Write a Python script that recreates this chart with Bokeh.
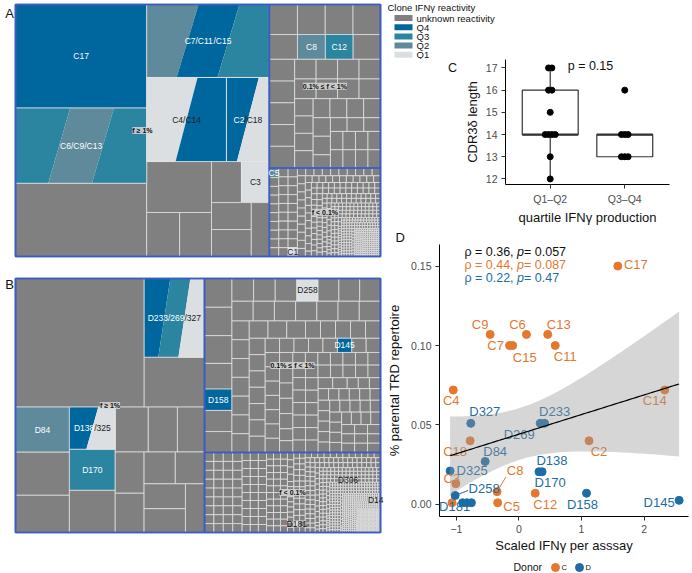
import numpy as np
from bokeh.plotting import figure
from bokeh.layouts import row, column
from bokeh.models import (Range1d, Label, FixedTicker, Title, NumeralTickFormatter)
from bokeh.core.properties import value
from bokeh.embed import file_html
from bokeh.resources import INLINE

FONT = "Liberation Sans"

# ======================= DATA =======================
# IFN-gamma reactivity classes (legend of the tree maps)
react_keys = ["NA", "Q4", "Q3", "Q2", "Q1"]
react_labels = ["unknown reactivity", "Q4", "Q3", "Q2", "Q1"]
react_colors = ["#808080", "#00679E", "#2B85A0", "#5F8A9B", "#DCDFE2"]
legend_title = "Clone IFNγ reactivity"
tier_labels = ["f ≥ 1%", "0.1% ≤ f < 1%", "f < 0.1%"]

# ---- Panel A (donor C): clonotype frequencies (% of TRD repertoire) ----
A_big_names = ["C17", "C6/C9/C13", "", "C7/C11/C15", "C4/C14", "C2/C18", "", "", "", "", "C3", "", "", ""]
A_big_quart = ["Q4", "Q3/Q2/Q3", "NA", "Q2/Q4/Q3", "Q1/Q4", "Q4/Q1", "NA", "NA", "NA", "NA", "Q1", "NA", "NA", "NA"]
A_big_freq = [14.81, 10.76, 10.48, 9.76, 7.31, 3.93, 3.60, 1.58, 1.53, 1.34, 1.25, 1.17, 1.17, 1.06]
A_big_nesting = [[0, 1, 2], [3, [4, 5], [[6, [7, 8]], [[9, 10], [[11, 12], 13]]]]]
A_mid_hist_freq = [0.92, 0.91, 0.90, 0.76, 0.74, 0.60, 0.46, 0.35, 0.25]
A_mid_hist_count = [1, 2, 1, 1, 1, 5, 8, 10, 12]
A_mid_named = ["C8", "C12"]
A_mid_named_freq = [0.755, 0.75]
A_mid_named_quart = ["Q2", "Q3"]
A_low_hist_freq = [0.09, 0.07, 0.05, 0.035, 0.025, 0.015, 0.008, 0.004]
A_low_hist_count = [28, 20, 20, 40, 50, 80, 120, 200]
A_low_named = ["C5", "C1"]
A_low_named_freq = [0.098, 0.0895]
A_low_named_quart = ["Q2", "Q1"]

# ---- Panel B (donor D) ----
B_big_names = ["", "D233/269/327", "", "D84", "", "", "D138/325", "D170", "", "", "", "", "", "", "", "", "", "", ""]
B_big_quart = ["NA", "Q4/Q3/Q1", "NA", "Q2", "NA", "NA", "Q4/Q1", "Q3", "NA", "NA", "NA", "NA", "NA", "NA", "NA", "NA", "NA", "NA", "NA"]
B_big_freq = [17.81, 5.11, 3.24, 2.62, 2.50, 2.16, 2.08, 2.03, 2.08, 1.60, 1.41, 1.31, 1.28, 1.22, 1.07, 1.00, 1.11, 1.06, 1.00]
B_big_nesting = [[0, [1, 2]], [[3, 4, 5], [6, 7, 8], [[9, 10, 11], [[12, 13], [[14, 15], [[16, 17], 18]]]]]]
B_mid_hist_freq = [0.85, 0.84, 0.82, 0.76, 0.625, 0.62, 0.53, 0.51, 0.45, 0.35, 0.28, 0.221, 0.219, 0.17, 0.13]
B_mid_hist_count = [1, 1, 1, 1, 1, 1, 3, 3, 7, 10, 12, 12, 7, 30, 36]
B_mid_named = ["D158", "D258", "D145"]
B_mid_named_freq = [0.63, 0.52, 0.22]
B_mid_named_quart = ["Q4", "Q1", "Q4"]
B_low_hist_freq = [0.09, 0.07, 0.05, 0.0352, 0.0348, 0.025, 0.0151, 0.0149, 0.008, 0.0041, 0.0039, 0.002]
B_low_hist_count = [36, 30, 40, 22, 27, 70, 84, 15, 150, 125, 125, 300]
B_low_named = ["D181", "D306", "D14"]
B_low_named_freq = [0.035, 0.015, 0.004]
B_low_named_quart = ["Q1", "Q1", "Q1"]

# ---- Panel C: CDR3 delta length by IFN-gamma quartile ----
C_groups = ["Q1–Q2", "Q3–Q4"]
C_len_q12 = [17, 17, 16, 16, 15, 14, 14, 14, 14, 13, 12]
C_len_q34 = [16, 14, 14, 14, 13, 13, 13]
C_ptext = "p = 0.15"

# ---- Panel D: repertoire share vs scaled IFN-gamma ----
D_C_names = ["C17", "C9", "C6", "C13", "C7", "C15", "C11", "C4", "C14", "C18", "C2", "C3", "C8", "C12", "C5", "C1"]
D_C_x = [1.58, -0.46, 0.12, 0.46, -0.15, -0.10, 0.58, -1.05, 2.33, -0.78, 1.12, -1.01, -0.35, 0.26, -0.34, -1.07]
D_C_y = [0.150, 0.107, 0.107, 0.107, 0.100, 0.100, 0.100, 0.072, 0.072, 0.040, 0.040, 0.013, 0.008, 0.007, 0.001, 0.001]
D_D_names = ["D327", "D269", "D233", "D84", "D325", "D138", "D170", "D258", "D181", "D306", "D14", "D158", "D145"]
D_D_x = [-0.77, 0.34, 0.41, -0.54, -1.10, 0.32, 0.37, -1.02, -0.90, -0.83, -0.76, 1.08, 2.56]
D_D_y = [0.051, 0.051, 0.051, 0.027, 0.021, 0.0205, 0.0205, 0.0056, 0.001, 0.001, 0.001, 0.007, 0.0025]
D_rho = ["0.36", "0.44", "0.22"]
D_pval = ["0.057", "0.087", "0.47"]
donor_title = "Donor"
donor_names = ["C", "D"]
donor_colors = ["#E5772F", "#1C6DA5"]

# ======================= LAYOUT / STYLE =======================
CELL_LINE = "#E6E6E6"
TIER_LINE = "#3D5CC0"
A_REGION = (15, 4, 365, 252)
B_REGION = (15, 278, 365, 254)
SLANT_A = 22
SLANT_B = 12
qcol = dict(zip(react_keys, react_colors))
CW = {'C': 0.722, 'D': 0.722, '/': 0.278}


def text_w(s, size):
    return sum(CW.get(ch, 0.556) for ch in s) * size


def nest_sum(node, vals):
    if isinstance(node, int):
        return vals[node]
    return sum(nest_sum(c, vals) for c in node)


def nest_layout(node, vals, x, y, w, h, out):
    if isinstance(node, int):
        out[node] = (x, y, w, h)
        return
    sums = [nest_sum(c, vals) for c in node]
    tot = sum(sums)
    for c, s in zip(node, sums):
        if w >= h:
            cw = w * s / tot
            nest_layout(c, vals, x, y, cw, h, out)
            x += cw
        else:
            ch = h * s / tot
            nest_layout(c, vals, x, y, w, ch, out)
            y += ch


def _layout(sizes, x, y, dx, dy):
    cov = sum(sizes)
    rects = []
    if dx >= dy:
        width = cov / max(dy, 1e-9)
        for s in sizes:
            hh = s / max(width, 1e-9)
            rects.append((x, y, width, hh))
            y += hh
    else:
        height = cov / max(dx, 1e-9)
        for s in sizes:
            ww = s / max(height, 1e-9)
            rects.append((x, y, ww, height))
            x += ww
    return rects


def _leftover(sizes, x, y, dx, dy):
    cov = sum(sizes)
    if dx >= dy:
        width = cov / max(dy, 1e-9)
        return x + width, y, dx - width, dy
    height = cov / max(dx, 1e-9)
    return x, y + height, dx, dy - height


def _worst(sizes, x, y, dx, dy):
    return max(max(w / max(h, 1e-9), h / max(w, 1e-9)) for (_, _, w, h) in _layout(sizes, x, y, dx, dy))


def squarify(sizes, x, y, dx, dy):
    out = []
    while sizes:
        if len(sizes) == 1:
            out += _layout(sizes, x, y, dx, dy)
            break
        i = 1
        while i < len(sizes) and _worst(sizes[:i], x, y, dx, dy) >= _worst(sizes[:i + 1], x, y, dx, dy):
            i += 1
        cur = sizes[:i]
        out += _layout(cur, x, y, dx, dy)
        x, y, dx, dy = _leftover(cur, x, y, dx, dy)
        sizes = sizes[i:]
    return out


def tier_items(hf, hc, nn, nf, nq):
    items = []
    for f, c in zip(hf, hc):
        items += [(f, "", "NA")] * c
    for n, f, q in zip(nn, nf, nq):
        items.append((f, n, q))
    items.sort(key=lambda t: -t[0])
    return items


cells = dict(l=[], r=[], t=[], b=[], c=[])
outl = dict(l=[], r=[], t=[], b=[])
strp = dict(xs=[], ys=[], c=[])
lab_c = dict(x=[], y=[], text=[], color=[])
lab_l = dict(x=[], y=[], text=[], color=[])
borders = dict(l=[], r=[], t=[], b=[])
tier_lab = []
LAB_SIZE = 8.5
DARK = "#1A1A1A"


def add_cell(x, y, w, h, name, quart, slant):
    qs = quart.split("/")
    if len(qs) == 1:
        for k, v in zip(("l", "r", "t", "b", "c"), (x, x + w, y, y + h, qcol[qs[0]])):
            cells[k].append(v)
    else:
        n = len(qs)

        def bx(k, top):
            if k == 0:
                return x
            if k == n:
                return x + w
            xm = x + w * k / n
            return xm + slant / 2 if top else xm - slant / 2
        for i, q in enumerate(qs):
            strp["xs"].append([bx(i, True), bx(i + 1, True), bx(i + 1, False), bx(i, False)])
            strp["ys"].append([y, y, y + h, y + h])
            strp["c"].append(qcol[q])
        for k, v in zip(("l", "r", "t", "b"), (x, x + w, y, y + h)):
            outl[k].append(v)
    if name:
        parts = name.split("/")
        pieces = [parts[0]] + ["/" + s for s in parts[1:]]
        cx, cy = x + w / 2, y + h / 2
        if len(pieces) == 1:
            lab_c["x"].append(cx); lab_c["y"].append(cy)
            lab_c["text"].append(pieces[0])
            lab_c["color"].append(DARK if qs[0] in ("Q1", "NA") else "#FFFFFF")
        else:
            tot = sum(text_w(p, LAB_SIZE) for p in pieces)
            sx = cx - tot / 2
            dark = False
            for p, q in zip(pieces, qs):
                dark = dark or q == "Q1"
                lab_l["x"].append(sx); lab_l["y"].append(cy)
                lab_l["text"].append(p); lab_l["color"].append(DARK if dark else "#FFFFFF")
                sx += text_w(p, LAB_SIZE)


def draw_panel(region, big_names, big_quart, big_freq, big_nest, mid_items, low_items, slant):
    tots = [sum(big_freq), sum(t[0] for t in mid_items), sum(t[0] for t in low_items)]
    rects = {}
    nest_layout([0, [1, 2]], tots, *region, rects)
    out = {}
    nest_layout(big_nest, big_freq, *rects[0], out)
    for i in range(len(big_freq)):
        add_cell(*out[i], big_names[i], big_quart[i], slant)
    for ti, items in ((1, mid_items), (2, low_items)):
        x, y, w, h = rects[ti]
        tot = sum(t[0] for t in items)
        sizes = [t[0] * w * h / tot for t in items]
        for (rx, ry, rw, rh), (f, n, q) in zip(squarify(sizes, x, y, w, h), items):
            add_cell(rx, ry, rw, rh, n, q, slant)
    for ti in range(3):
        x, y, w, h = rects[ti]
        borders["l"].append(x); borders["r"].append(x + w)
        borders["t"].append(y); borders["b"].append(y + h)
        tier_lab.append((x + w / 2, y + h / 2, tier_labels[ti]))
    x, y, w, h = region
    borders["l"].append(x); borders["r"].append(x + w)
    borders["t"].append(y); borders["b"].append(y + h)


draw_panel(A_REGION, A_big_names, A_big_quart, A_big_freq, A_big_nesting,
           tier_items(A_mid_hist_freq, A_mid_hist_count, A_mid_named, A_mid_named_freq, A_mid_named_quart),
           tier_items(A_low_hist_freq, A_low_hist_count, A_low_named, A_low_named_freq, A_low_named_quart),
           SLANT_A)
draw_panel(B_REGION, B_big_names, B_big_quart, B_big_freq, B_big_nesting,
           tier_items(B_mid_hist_freq, B_mid_hist_count, B_mid_named, B_mid_named_freq, B_mid_named_quart),
           tier_items(B_low_hist_freq, B_low_hist_count, B_low_named, B_low_named_freq, B_low_named_quart),
           SLANT_B)


def canvas(w, h, x0, y0):
    """A plain figure whose data units are page pixels (no axes)."""
    c = figure(width=w, height=h, x_range=Range1d(x0, x0 + w), y_range=Range1d(y0 + h, y0),
               output_backend="svg", toolbar_location=None, min_border=0,
               x_axis_location=None, y_axis_location=None, outline_line_color=None)
    c.grid.visible = False
    return c


# ---------------- tree-map figure ----------------
tm = canvas(384, 573, 0, 0)
tm.quad(left=cells["l"], right=cells["r"], top=cells["t"], bottom=cells["b"],
        fill_color=cells["c"], line_color=CELL_LINE, line_width=0.7)
tm.patches(xs=strp["xs"], ys=strp["ys"], fill_color=strp["c"], line_color=None)
tm.quad(left=outl["l"], right=outl["r"], top=outl["t"], bottom=outl["b"],
        fill_alpha=0, line_color=CELL_LINE, line_width=0.7)
tm.quad(left=borders["l"], right=borders["r"], top=borders["t"], bottom=borders["b"],
        fill_alpha=0, line_color=TIER_LINE, line_width=1.6)
tm.text(x=lab_c["x"], y=lab_c["y"], text=lab_c["text"], text_color=lab_c["color"],
        text_align="center", text_baseline="middle", text_font=value(FONT),
        text_font_size="8.5px")
tm.text(x=lab_l["x"], y=lab_l["y"], text=lab_l["text"], text_color=lab_l["color"],
        text_align="left", text_baseline="middle", text_font=value(FONT),
        text_font_size="8.5px")
for (lx, ly, lt) in tier_lab:
    tm.add_layout(Label(x=lx, y=ly, text=lt, text_align="center", text_baseline="middle",
                        text_font=FONT, text_font_size="7px", text_font_style="bold",
                        text_color="#111111", background_fill_color="#D6D6D6",
                        background_fill_alpha=0.85))
tm.text(x=[9, 9], y=[13, 284], text=["A", "B"], text_align="center", text_baseline="middle",
        text_font=value(FONT), text_font_size="13px", text_color="#111111")

# ---------------- tree-map legend canvas ----------------
LG_H = 59
lg = canvas(308, LG_H, 384, 0)
lg.text(x=[387], y=[6.5], text=[legend_title], text_align="left", text_baseline="middle",
        text_font=value(FONT), text_font_size="9.5px", text_color="#111111")
ly = [17.5 + 9.2 * i for i in range(len(react_keys))]
lg.quad(left=[394] * len(ly), right=[412] * len(ly), top=[v - 3 for v in ly], bottom=[v + 3 for v in ly],
        fill_color=react_colors, line_color=None)
lg.text(x=[416] * len(ly), y=ly, text=react_labels, text_align="left", text_baseline="middle",
        text_font=value(FONT), text_font_size="9.5px", text_color="#111111")


def style_axes(p):
    for ax in p.axis:
        ax.axis_line_color = "black"
        ax.axis_line_width = 1
        ax.major_tick_line_color = "#333333"
        ax.major_tick_out = 4
        ax.major_tick_in = 0
        ax.minor_tick_line_color = None
        ax.major_label_text_font = FONT
        ax.major_label_text_font_size = "10.5px"
        ax.major_label_text_color = "#4D4D4D"
        ax.major_label_standoff = 4
        ax.axis_label_text_font = FONT
        ax.axis_label_text_font_size = "13px"
        ax.axis_label_text_font_style = "normal"
        ax.axis_label_text_color = "#111111"
    p.grid.visible = False
    p.outline_line_color = None


# ---------------- panel C ----------------
C_H = 227 - LG_H
cl = canvas(77, C_H, 384, LG_H)
cl.text(x=[452], y=[67], text=["C"], text_align="center", text_baseline="middle",
        text_font=value(FONT), text_font_size="12.5px", text_color="#111111")

cf = figure(width=231, height=C_H, x_range=Range1d(0.4, 2.6), y_range=Range1d(11.75, 17.38),
            output_backend="svg", toolbar_location=None,
            min_border_left=40, min_border_right=23, min_border_top=0, min_border_bottom=40)
style_axes(cf)
cf.xaxis.ticker = FixedTicker(ticks=[1, 2])
cf.xaxis.major_label_overrides = {1: C_groups[0], 2: C_groups[1]}
cf.yaxis.ticker = FixedTicker(ticks=[12, 13, 14, 15, 16, 17])
cf.xaxis.axis_label = "quartile IFNγ production"
cf.yaxis.axis_label = "CDR3δ length"
cf.xaxis.axis_label_standoff = 2
cf.yaxis.axis_label_standoff = 3

for gi, vals in enumerate([C_len_q12, C_len_q34]):
    xc = gi + 1
    v = np.array(vals, dtype=float)
    q1, med, q3 = np.percentile(v, [25, 50, 75])
    iqr = q3 - q1
    hi = v[v <= q3 + 1.5 * iqr].max()
    lo = v[v >= q1 - 1.5 * iqr].min()
    cf.segment(x0=[xc, xc], y0=[q3, lo], x1=[xc, xc], y1=[hi, q1], line_color="#333333", line_width=1.2)
    cf.quad(left=[xc - 0.375], right=[xc + 0.375], bottom=[q1], top=[q3],
            fill_alpha=0, line_color="#333333", line_width=1.2)
    cf.segment(x0=[xc - 0.375], x1=[xc + 0.375], y0=[med], y1=[med], line_color="#333333", line_width=2.2)
    # spread identical values horizontally (deterministic jitter)
    xs, ys = [], []
    for u in sorted(set(vals)):
        n = vals.count(u)
        for k in range(n):
            xs.append(xc + (k - (n - 1) / 2) * 0.045)
            ys.append(u)
    cf.scatter(xs, ys, size=6, color="black")
cf.text(x=[1.54], y=[17.1], text=[C_ptext], text_align="center", text_baseline="middle",
        text_font=value(FONT), text_font_size="12.5px", text_color="#111111")

# ---------------- panel D ----------------
dxr = (-1.27, 2.71)
dyr = (-0.00766, 0.1636)
df = figure(width=308, height=328, x_range=Range1d(*dxr), y_range=Range1d(*dyr),
            output_backend="svg", toolbar_location=None,
            min_border_left=54, min_border_right=4, min_border_top=16, min_border_bottom=37)
style_axes(df)
df.xaxis.ticker = FixedTicker(ticks=[-1, 0, 1, 2])
df.yaxis.ticker = FixedTicker(ticks=[0, 0.05, 0.10, 0.15])
df.yaxis.formatter = NumeralTickFormatter(format="0.00")
df.xaxis.axis_label = "Scaled IFNγ per asssay"
df.yaxis.axis_label = "% parental TRD repertoire"
df.xaxis.axis_label_standoff = 2
df.yaxis.axis_label_standoff = 6
df.add_layout(Title(text="D", align="left", offset=-44, text_font=FONT, text_font_size="13px",
                    text_font_style="normal", text_color="#111111", standoff=0), "above")

PXX = 250 / (dxr[1] - dxr[0])
PXY = 275 / (dyr[1] - dyr[0])

nudge = {"C17": (18, -2), "C9": (-10, -10), "C6": (-9, -10), "C13": (11, -10), "C7": (-14, 0),
         "C15": (12, 12), "C11": (10, 11), "C4": (-2, 11), "C14": (-10, 11), "C18": (-15, 11),
         "C2": (10, 11), "C3": (-4, -5), "C8": (18, -21), "C12": (10, 11), "C5": (14, 4),
         "D327": (14, -12), "D233": (10, -12), "D269": (-21, 11), "D84": (10, -10),
         "D325": (22, 0), "D138": (13, -11), "D170": (8, 11), "D258": (29, -7),
         "D158": (-4, 11), "D145": (-20, 2), "D181": (-8, 4)}
seg_end = {"C8": (9, -15), "D258": (13, -5)}

for names, xs, ys, col in ((D_C_names, D_C_x, D_C_y, donor_colors[0]),
                           (D_D_names, D_D_x, D_D_y, donor_colors[1])):
    df.scatter(xs, ys, size=8, color=col)
for names, xs, ys, col in ((D_C_names, D_C_x, D_C_y, donor_colors[0]),
                           (D_D_names, D_D_x, D_D_y, donor_colors[1])):
    tx, ty, tt, ox, oy = [], [], [], [], []
    sx0, sy0, sx1, sy1 = [], [], [], []
    for n, x, y in zip(names, xs, ys):
        if n in nudge:
            tx.append(x); ty.append(y); tt.append(n)
            ox.append(nudge[n][0]); oy.append(nudge[n][1])
        if n in seg_end:
            sx0.append(x); sy0.append(y)
            sx1.append(x + seg_end[n][0] / PXX); sy1.append(y - seg_end[n][1] / PXY)
    df.segment(x0=sx0, y0=sy0, x1=sx1, y1=sy1, line_color=col, line_width=1)
    df.text(x=tx, y=ty, text=tt, x_offset=ox, y_offset=oy, text_color=col,
            text_align="center", text_baseline="middle", text_font=value(FONT),
            text_font_size="13px")

# linear fit with 95% confidence band
ax_ = np.array(D_C_x + D_D_x)
ay_ = np.array(D_C_y + D_D_y)
n = len(ax_)
b1, b0 = np.polyfit(ax_, ay_, 1)
res = ay_ - (b0 + b1 * ax_)
s = np.sqrt((res ** 2).sum() / (n - 2))
sxx = ((ax_ - ax_.mean()) ** 2).sum()
z = 1.959964
dfree = n - 2
tq = z + (z ** 3 + z) / (4 * dfree) + (5 * z ** 5 + 16 * z ** 3 + 3 * z) / (96 * dfree ** 2)
xg = np.linspace(ax_.min(), ax_.max(), 80)
yg = b0 + b1 * xg
se = s * np.sqrt(1 / n + (xg - ax_.mean()) ** 2 / sxx)
df.varea(x=xg, y1=yg - tq * se, y2=yg + tq * se, fill_color="#999999", fill_alpha=0.4)
df.line(xg, yg, line_color="black", line_width=1.2)

# correlation annotations
stat_colors = ["#111111", donor_colors[0], donor_colors[1]]
SZ = 12.5
RHO_W = {'ρ': 0.57, ' ': 0.278, '=': 0.584, ',': 0.278, '.': 0.278}
for i, (rv, pv, col) in enumerate(zip(D_rho, D_pval, stat_colors)):
    ytxt = 0.1588 - i * 0.0081
    p1 = "ρ = " + rv + ", "
    p2 = "p"
    p3 = " = " + pv
    w1 = sum(RHO_W.get(ch, 0.556) for ch in p1) * SZ
    w2 = 0.556 * SZ
    for piece, off, style in ((p1, 0, "normal"), (p2, w1, "italic"), (p3, w1 + w2, "normal")):
        df.text(x=[-0.872], y=[ytxt], text=[piece], x_offset=off, text_color=col,
                text_align="left", text_baseline="middle", text_font=value(FONT),
                text_font_size="12.5px", text_font_style=style)

# ---------------- donor legend canvas ----------------
dn = canvas(308, 18, 384, 555)
dn.text(x=[513], y=[566.5], text=[donor_title], text_align="left", text_baseline="middle",
        text_font=value(FONT), text_font_size="10.5px", text_color="#111111")
dn.scatter([555, 579], [567, 567], size=8, color=donor_colors)
dn.text(x=[561, 585], y=[567, 567], text=donor_names, text_align="left", text_baseline="middle",
        text_font=value(FONT), text_font_size="7.5px", text_color="#111111")

right = column(column(lg), row(column(cl), column(cf)), column(df), column(dn))
layout = row(column(tm), right)
open("out.html", "w").write(file_html(layout, INLINE))
